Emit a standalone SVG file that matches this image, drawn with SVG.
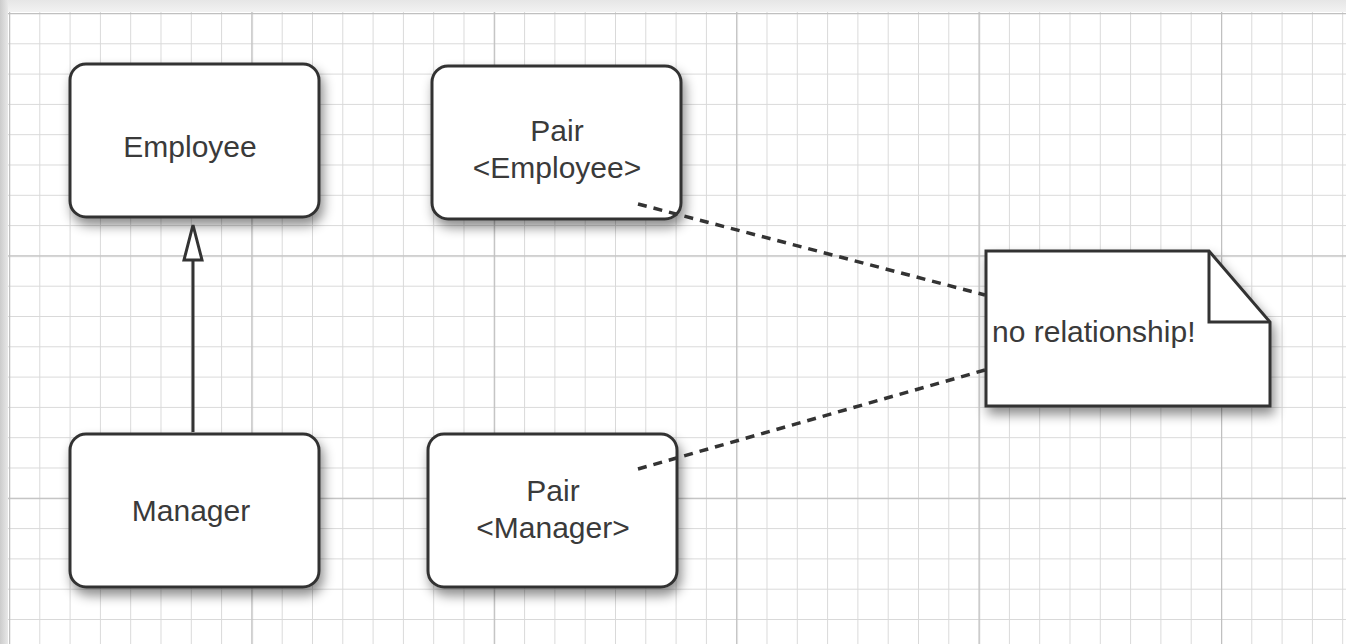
<svg xmlns="http://www.w3.org/2000/svg" width="1346" height="644" viewBox="0 0 1346 644">
<defs>
<pattern id="minor" x="9" y="13" width="30.3" height="30.3" patternUnits="userSpaceOnUse">
<path d="M0 0H30.3M0 0V30.3" fill="none" stroke="#d9d9d9" stroke-width="2"/>
</pattern>
<pattern id="major" x="9" y="13" width="242.4" height="242.4" patternUnits="userSpaceOnUse">
<path d="M0 0H242.4M0 0V242.4" fill="none" stroke="#c0c0c0" stroke-width="2.5"/>
</pattern>
<linearGradient id="topg" x1="0" y1="0" x2="0" y2="1">
<stop offset="0" stop-color="#e6e6e6"/>
<stop offset="1" stop-color="#f2f2f2"/>
</linearGradient>
<linearGradient id="leftg" x1="0" y1="0" x2="1" y2="0">
<stop offset="0" stop-color="#cccccc"/>
<stop offset="1" stop-color="#e8e8e8"/>
</linearGradient>
<filter id="sh" x="-20%" y="-20%" width="140%" height="150%">
<feDropShadow dx="3" dy="7" stdDeviation="6" flood-color="#000" flood-opacity="0.45"/>
</filter>
</defs>
<style>
.box{fill:#fff;stroke:#333;stroke-width:3;filter:url(#sh)}
.t{font-family:"Liberation Sans",Arial,sans-serif;font-size:30px;fill:#3a3a3a;text-anchor:middle}
.dash{fill:none;stroke:#333;stroke-width:3.5;stroke-dasharray:9 7}
</style>
<rect width="1346" height="644" fill="#fff"/>
<rect width="1346" height="644" fill="url(#minor)"/>
<rect width="1346" height="644" fill="url(#major)"/>
<rect x="0" y="0" width="1346" height="12" fill="url(#topg)"/>
<rect x="0" y="0" width="8" height="644" fill="url(#leftg)"/>

<g id="employee">
<rect class="box" x="70" y="64" width="249" height="153" rx="16"/>
<text class="t" x="190" y="157">Employee</text>
</g>
<g id="manager">
<rect class="box" x="70" y="434" width="249" height="153" rx="16"/>
<text class="t" x="191" y="521">Manager</text>
</g>
<g id="pair-employee">
<rect class="box" x="432" y="66" width="249" height="153" rx="16"/>
<text class="t" x="557" y="141">Pair</text>
<text class="t" x="557" y="178">&lt;Employee&gt;</text>
</g>
<g id="pair-manager">
<rect class="box" x="428" y="434" width="249" height="153" rx="16"/>
<text class="t" x="553" y="501">Pair</text>
<text class="t" x="553" y="538">&lt;Manager&gt;</text>
</g>
<g id="note">
<path class="box" d="M986 251H1209L1270 322V406H986Z"/>
<path d="M1209 251V322H1270" fill="none" stroke="#333" stroke-width="3"/>
<text class="t" x="992" y="342" style="text-anchor:start">no relationship!</text>
</g>

<g id="connectors">
<line x1="193" y1="432" x2="193" y2="260" stroke="#333" stroke-width="3"/>
<polygon points="193,225 184,260 202,260" fill="#fff" stroke="#333" stroke-width="3" stroke-linejoin="miter"/>
<line class="dash" x1="638" y1="204" x2="985" y2="295"/>
<line class="dash" x1="638" y1="469" x2="985" y2="370"/>
</g>
</svg>
